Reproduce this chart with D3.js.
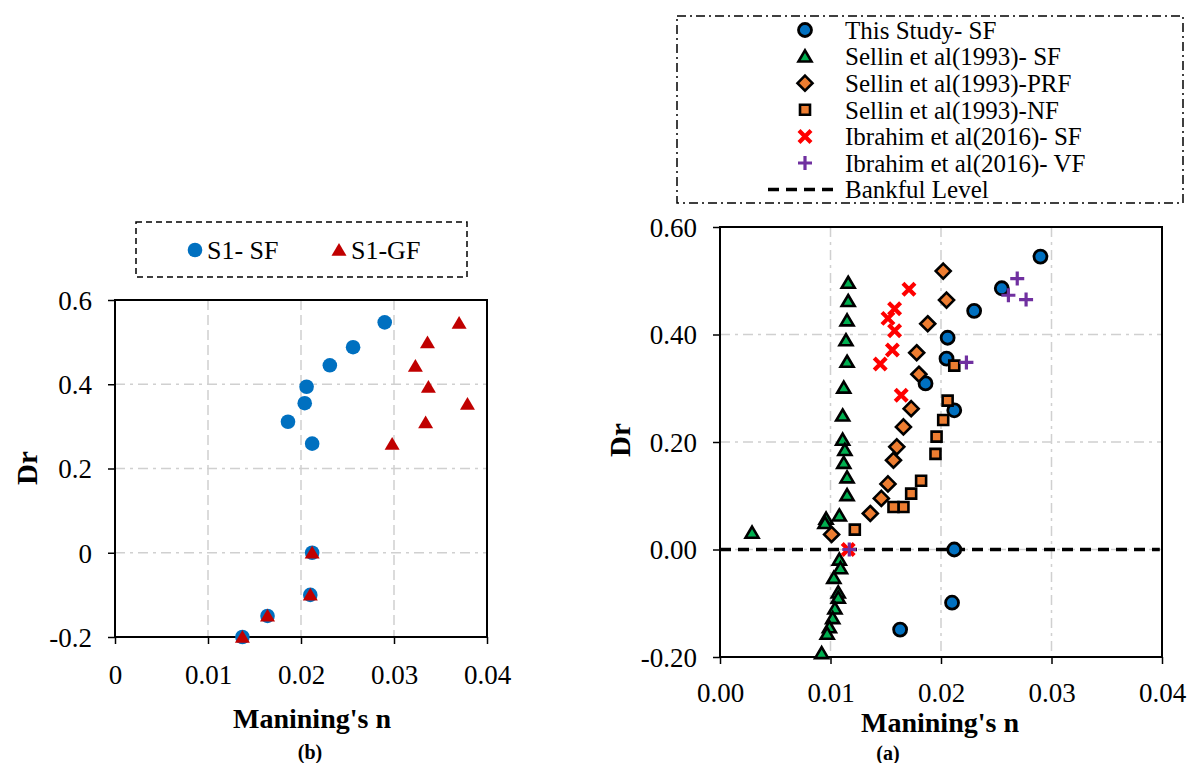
<!DOCTYPE html>
<html>
<head>
<meta charset="utf-8">
<script src="https://cdn.jsdelivr.net/npm/d3@7"></script>
<style>
  body { margin: 0; background: #fff; }
  svg { font-family: "Liberation Serif", "Times New Roman", serif; }
</style>
</head>
<body>
<svg width="1189" height="763"></svg>
<script>
// ---- data: panel (b) ----
var s1sfN  = [0.0290, 0.0256, 0.0231, 0.0206, 0.0204, 0.0186, 0.0212, 0.0212, 0.0210, 0.0164, 0.0137];
var s1sfDr = [0.547, 0.488, 0.445, 0.394, 0.355, 0.311, 0.259, 0.000, -0.100, -0.150, -0.200];
var s1gfN  = [0.0370, 0.0336, 0.0323, 0.0337, 0.0379, 0.0334, 0.0298, 0.0212, 0.0210, 0.0164, 0.0137];
var s1gfDr = [0.545, 0.499, 0.443, 0.393, 0.353, 0.309, 0.258, 0.000, -0.100, -0.150, -0.200];

// ---- data: panel (a) ----
var studyN  = [0.0290, 0.0255, 0.0230, 0.0206, 0.0205, 0.0186, 0.0212, 0.0212, 0.0210, 0.0163];
var studyDr = [0.545, 0.486, 0.444, 0.394, 0.355, 0.309, 0.259, 0.000, -0.099, -0.149];

var sellinSfN  = [0.0116, 0.0116, 0.0115, 0.0114, 0.0115, 0.0112, 0.0111, 0.0111, 0.0113, 0.0112, 0.0115, 0.0115, 0.0108,
                  0.0096, 0.0095, 0.0029, 0.0108, 0.0109, 0.0103, 0.0107, 0.0107, 0.0104, 0.0102, 0.0099, 0.0097, 0.0092];
var sellinSfDr = [0.496, 0.462, 0.426, 0.389, 0.349, 0.301, 0.249, 0.204, 0.185, 0.161, 0.134, 0.101, 0.063,
                  0.057, 0.049, 0.031, -0.019, -0.035, -0.053, -0.080, -0.090, -0.110, -0.128, -0.145, -0.157, -0.193];

var sellinPrfN  = [0.0202, 0.0205, 0.0188, 0.0178, 0.0180, 0.0173, 0.0166, 0.0160, 0.0157, 0.0152, 0.0146, 0.0136, 0.0101];
var sellinPrfDr = [0.518, 0.464, 0.420, 0.366, 0.326, 0.262, 0.228, 0.191, 0.166, 0.122, 0.095, 0.067, 0.028];

var sellinNfN  = [0.0212, 0.0206, 0.0202, 0.0196, 0.0195, 0.0182, 0.0173, 0.0166, 0.0157, 0.0122];
var sellinNfDr = [0.342, 0.277, 0.241, 0.210, 0.178, 0.128, 0.104, 0.079, 0.079, 0.037];

var ibrahimSfN  = [0.0171, 0.0158, 0.0152, 0.0158, 0.0156, 0.0145, 0.0164, 0.0116];
var ibrahimSfDr = [0.484, 0.448, 0.430, 0.407, 0.371, 0.345, 0.287, 0.000];

var ibrahimVfN  = [0.0269, 0.0261, 0.0277, 0.0223, 0.0117];
var ibrahimVfDr = [0.504, 0.473, 0.465, 0.348, 0.000];

var bankfulN  = [0.0, 0.0398];
var bankfulDr = [0.0, 0.0];

// ---- ticks ----
var xTicks = [0, 0.01, 0.02, 0.03, 0.04];
var yTicks = [-0.2, 0, 0.2, 0.4, 0.6];
var xLabelsB = ["0", "0.01", "0.02", "0.03", "0.04"];
var yLabelsB = ["-0.2", "0", "0.2", "0.4", "0.6"];
var xLabelsA = ["0.00", "0.01", "0.02", "0.03", "0.04"];
var yLabelsA = ["-0.20", "0.00", "0.20", "0.40", "0.60"];

var svg = d3.select("svg");
svg.append("rect").attr("width", 1189).attr("height", 763).attr("fill", "#fff");

function zip(xs, ys) { return xs.map((v, i) => [v, ys[i]]); }

// marker shapes (paths around 0,0)
function shape(kind, s) {
  switch (kind) {
    case "tri": return "M0," + (-s * 0.95) + "L" + s + "," + (s * 0.75) + "L" + (-s) + "," + (s * 0.75) + "Z";
    case "dia": return "M0," + (-s) + "L" + s + ",0L0," + s + "L" + (-s) + ",0Z";
    case "sq":  return "M" + (-s) + "," + (-s) + "H" + s + "V" + s + "H" + (-s) + "Z";
    case "x":   return "M" + (-s) + "," + (-s) + "L" + s + "," + s + "M" + s + "," + (-s) + "L" + (-s) + "," + s;
    case "plus":return "M" + (-s) + ",0H" + s + "M0," + (-s) + "V" + s;
  }
}

function drawMarkers(g, pts, x, y, st) {
  var sel = g.append("g").selectAll("g").data(pts).enter().append("g")
    .attr("transform", d => "translate(" + x(d[0]) + "," + y(d[1]) + ")");
  if (st.kind === "circle") {
    sel.append("circle").attr("r", st.size).attr("fill", st.fill)
      .attr("stroke", st.stroke || "none").attr("stroke-width", st.sw || 0);
  } else {
    sel.append("path").attr("d", shape(st.kind, st.size))
      .attr("fill", st.fill || "none").attr("stroke", st.stroke || "none")
      .attr("stroke-width", st.sw || 0).attr("stroke-linejoin", "miter");
  }
}

function panel(x, y, opt) {
  var g = svg.append("g");
  var x0 = x.range()[0], x1 = x.range()[1], yb = y.range()[0], yt = y.range()[1];

  // grid
  g.selectAll(".vg").data([0.01, 0.02, 0.03]).enter().append("line")
    .attr("x1", d => x(d)).attr("x2", d => x(d)).attr("y1", yt).attr("y2", yb)
    .attr("stroke", "#d0d0d0").attr("stroke-width", 1.5).attr("stroke-dasharray", opt.vDash);
  g.selectAll(".hg").data([0, 0.2, 0.4]).enter().append("line")
    .attr("x1", x0).attr("x2", x1).attr("y1", d => y(d)).attr("y2", d => y(d))
    .attr("stroke", "#d0d0d0").attr("stroke-width", 1.5).attr("stroke-dasharray", "10,5,3,5");

  // axes
  var ax = g.append("g").attr("transform", "translate(0," + yb + ")")
    .call(d3.axisBottom(x).tickValues(xTicks).tickFormat((d, i) => opt.xLabels[i])
      .tickSize(7).tickSizeOuter(0).tickPadding(opt.xPad));
  var ay = g.append("g").attr("transform", "translate(" + x0 + ",0)")
    .call(d3.axisLeft(y).tickValues(yTicks).tickFormat((d, i) => opt.yLabels[i])
      .tickSize(7).tickSizeOuter(0).tickPadding(16));
  [ax, ay].forEach(a => {
    a.attr("font-family", null);
    a.select(".domain").remove();
    a.selectAll("line").attr("stroke", "#000").attr("stroke-width", 1.5);
    a.selectAll("text").style("font-family", "'Liberation Serif', 'Times New Roman', serif")
      .attr("font-size", opt.tickFont).attr("fill", "#000");
  });
  ay.selectAll("text").attr("dy", "0.35em");

  g.append("rect").attr("x", x0).attr("y", yt).attr("width", x1 - x0).attr("height", yb - yt)
    .attr("fill", "none").attr("stroke", "#000").attr("stroke-width", 2);

  // titles
  g.append("text").attr("x", (x0 + x1) / 2 + opt.titleDx).attr("y", opt.titleY).attr("dy", "0.35em")
    .attr("text-anchor", "middle").attr("font-weight", "bold").attr("font-size", 28).text("Manining's n");
  g.append("text").attr("transform", "translate(" + opt.dr[0] + "," + opt.dr[1] + ") rotate(-90)")
    .attr("dy", "0.35em").attr("text-anchor", "middle").attr("font-weight", "bold").attr("font-size", 29).text("Dr");
  g.append("text").attr("x", opt.tag[0]).attr("y", opt.tag[1]).attr("dy", "0.35em")
    .attr("text-anchor", "middle").attr("font-weight", "bold").attr("font-size", 20).text(opt.tagText);
  return g;
}

// ---------- panel (b) ----------
var xB = d3.scaleLinear().domain([0, 0.04]).range([115, 487]);
var yB = d3.scaleLinear().domain([-0.2, 0.6]).range([637, 300]);
var gB = panel(xB, yB, { xLabels: xLabelsB, yLabels: yLabelsB, xPad: 21, tickFont: 27, vDash: "10,5",
  titleY: 718, titleDx: 11, dr: [27, 468], tag: [310, 752], tagText: "(b)" });

var styleSF = { kind: "circle", size: 7.3, fill: "#0070C0" };
var styleGF = { kind: "tri", size: 7.5, fill: "#C00000" };
drawMarkers(gB, zip(s1sfN, s1sfDr), xB, yB, styleSF);
drawMarkers(gB, zip(s1gfN, s1gfDr), xB, yB, styleGF);

// legend (b)
var lgB = svg.append("g");
lgB.append("rect").attr("x", 136).attr("y", 222).attr("width", 331).attr("height", 55)
  .attr("fill", "#fff").attr("stroke", "#000").attr("stroke-width", 1.5).attr("stroke-dasharray", "6,4");
[{ st: styleSF, x: 195, label: "S1- SF" }, { st: styleGF, x: 339, label: "S1-GF" }].forEach(e => {
  drawMarkers(lgB, [[0, 0]], () => e.x, () => 250, e.st);
  lgB.append("text").attr("x", e.x + 12).attr("y", 250).attr("dy", "0.35em")
    .attr("font-size", 26).text(e.label);
});

// ---------- panel (a) ----------
var xA = d3.scaleLinear().domain([0, 0.04]).range([720, 1162]);
var yA = d3.scaleLinear().domain([-0.2, 0.6]).range([657, 227]);
var gA = panel(xA, yA, { xLabels: xLabelsA, yLabels: yLabelsA, xPad: 19, tickFont: 27, vDash: "10,5,3,5",
  titleY: 722, titleDx: -1, dr: [620, 440], tag: [888, 753], tagText: "(a)" });

var line = d3.line().x(d => xA(d[0])).y(d => yA(d[1]));
var bankStyle = { stroke: "#000", sw: 3.5, dash: "11,7" };
gA.append("path").attr("d", line(zip(bankfulN, bankfulDr))).attr("fill", "none")
  .attr("stroke", bankStyle.stroke).attr("stroke-width", bankStyle.sw).attr("stroke-dasharray", bankStyle.dash);

var seriesA = [
  { n: studyN, dr: studyDr, label: "This Study- SF", st: { kind: "circle", size: 6.5, fill: "#0070C0", stroke: "#000", sw: 2.8 } },
  { n: sellinSfN, dr: sellinSfDr, label: "Sellin et al(1993)- SF", st: { kind: "tri", size: 6.5, fill: "#00B050", stroke: "#000", sw: 2.6 } },
  { n: sellinPrfN, dr: sellinPrfDr, label: "Sellin et al(1993)-PRF", st: { kind: "dia", size: 7.5, fill: "#ED7D31", stroke: "#000", sw: 2.6 } },
  { n: sellinNfN, dr: sellinNfDr, label: "Sellin et al(1993)-NF", st: { kind: "sq", size: 5, fill: "#ED7D31", stroke: "#000", sw: 2.6 } },
  { n: ibrahimSfN, dr: ibrahimSfDr, label: "Ibrahim et al(2016)- SF", st: { kind: "x", size: 6, stroke: "#FF0000", sw: 4.2 } },
  { n: ibrahimVfN, dr: ibrahimVfDr, label: "Ibrahim et al(2016)- VF", st: { kind: "plus", size: 7, stroke: "#7030A0", sw: 3.2 } }
];
seriesA.forEach(s => drawMarkers(gA, zip(s.n, s.dr), xA, yA, s.st));

// legend (a)
var lgA = svg.append("g");
lgA.append("rect").attr("x", 677).attr("y", 16).attr("width", 506).attr("height", 187)
  .attr("fill", "#fff").attr("stroke", "#000").attr("stroke-width", 1.5).attr("stroke-dasharray", "9,4,2,4");
var rowY = d => 30 + d * 26.6;
seriesA.forEach((s, i) => {
  drawMarkers(lgA, [[0, 0]], () => 805, () => rowY(i), s.st);
  lgA.append("text").attr("x", 845).attr("y", rowY(i)).attr("dy", "0.35em")
    .attr("font-size", 25).text(s.label);
});
lgA.append("line").attr("x1", 768).attr("x2", 838).attr("y1", rowY(6)).attr("y2", rowY(6))
  .attr("stroke", bankStyle.stroke).attr("stroke-width", bankStyle.sw).attr("stroke-dasharray", bankStyle.dash);
lgA.append("text").attr("x", 845).attr("y", rowY(6)).attr("dy", "0.35em").attr("font-size", 25).text("Bankful Level");
</script>
</body>
</html>
